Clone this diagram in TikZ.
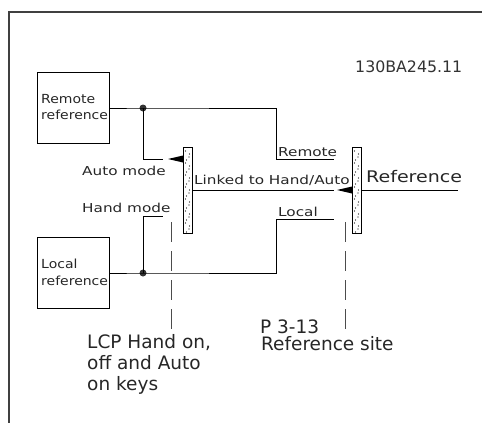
\documentclass[tikz,border=0pt]{standalone}
\usepackage{fontspec}
\setmainfont{DejaVu Sans}
\newfontfamily\cadfont[FakeStretch=1.24]{DejaVu Sans}
\newfontfamily\cadbox[FakeStretch=1.12]{DejaVu Sans}
\newfontfamily\cadbig[FakeStretch=1.19]{DejaVu Sans}
\begin{document}
\begin{tikzpicture}[x=1pt,y=-1pt,
  wire/.style={line width=1pt,black},
  frameline/.style={line width=1.2pt,black!75},
  box/.style={draw,line width=1pt,minimum width=72pt,minimum height=71pt,inner sep=0pt},
  lbl/.style={font=\cadfont\fontsize{12.3}{15}\selectfont,inner sep=0pt,anchor=base west,text=black!85},
  boxlbl/.style={font=\cadbox\fontsize{12.5}{15}\selectfont,inner sep=0pt,anchor=base west,text=black!85},
  bigl/.style={font=\cadbig\fontsize{16}{18}\selectfont,inner sep=0pt,anchor=base west,text=black!85},
  codel/.style={font=\fontsize{15.8}{18}\selectfont,inner sep=0pt,anchor=base west,text=black!80},
  note/.style={font=\fontsize{18.5}{21}\selectfont,inner sep=0pt,anchor=base west,align=left,text=black!85},
  bar/.style={draw,line width=1pt,fill=white},
  dashln/.style={line width=1pt,black!70,dash pattern=on 20pt off 9pt},
  jdot/.style={circle,fill=black!80,minimum size=7pt,inner sep=0pt},
  tip/.style={fill=black}]
\useasboundingbox (0,0) rectangle (482,423);
% frame
\draw[frameline] (9,423) -- (9,12) -- (482,12);
% code
\node[codel] (code) at (355,72) {130BA245.11};
% boxes
\node[box,anchor=north west] (rem) at (37,72) {};
\node[box,anchor=north west] (loc) at (37,237) {};
\node[boxlbl] (remt1) at (41,103) {Remote};
\node[boxlbl] (remt2) at (41,119) {reference};
\node[boxlbl] (loct1) at (41,268) {Local};
\node[boxlbl] (loct2) at (41,285) {reference};
% bars
\draw[bar] (183,147) rectangle (192,233);
\draw[bar] (352,147) rectangle (361,233);
\coordinate (b1l) at (183,159);
\coordinate (b1r) at (192,190);
\coordinate (b2l) at (352,190);
\coordinate (b2r) at (361,190);
\foreach \bx in {183,352}{
  \foreach \k in {0,...,13}{
    \fill ({\bx+2.5+mod(\k,2)*3.5},{151+\k*6}) circle (0.6pt);
    \fill ({\bx+6.5-mod(\k,2)*3},{154+\k*6}) circle (0.6pt);
  }
}
% junction dots
\node[jdot] (j1) at (143,108) {};
\node[jdot] (j2) at (143,273) {};
% remote wire
\coordinate (r1) at (276,108);
\coordinate (r2) at (276,159);
\coordinate (r3) at (334,159);
\draw[wire] (rem.east |- j1) -- (j1.center) -- (r1) -- (r2) -- (r3);
% auto mode wire
\coordinate (a1) at (143,159);
\coordinate (a2) at (163,159);
\draw[wire] (j1.center) -- (a1) -- (a2);
\fill[tip] (168,159) -- (183,155.5) -- (183,162.5) -- cycle;
% hand mode wire
\coordinate (h1) at (143,216);
\coordinate (h2) at (163,216);
\draw[wire] (j2.center) -- (h1) -- (h2);
% local wire
\coordinate (l1) at (276,273);
\coordinate (l2) at (276,219);
\coordinate (l3) at (334,219);
\draw[wire] (loc.east |- j2) -- (j2.center) -- (l1) -- (l2) -- (l3);
% linked wire
\coordinate (k1) at (334,190);
\draw[wire] (b1r) -- (k1);
\fill[tip] (337,190) -- (352,186.5) -- (352,193.5) -- cycle;
% reference out
\coordinate (refend) at (458,190);
\draw[wire] (b2r) -- (refend);
% dashed lines
\coordinate (d1a) at (171,222);
\coordinate (d1b) at (171,330);
\coordinate (d2a) at (345,222);
\coordinate (d2b) at (345,330);
\draw[dashln] (d1a) -- (d1b);
\draw[dashln] (d2a) -- (d2b);
% labels
\node[lbl] (tremote) at (278,156) {Remote};
\node[lbl] (tlocal) at (278,216) {Local};
\node[lbl] (tauto) at (82,175) {Auto mode};
\node[lbl] (thand) at (82,212) {Hand mode};
\node[lbl] (tlinked) at (194,184) {Linked to Hand/Auto};
\node[bigl] (tref) at (366,182) {Reference};
% bottom notes
\node[note,anchor=north west] (lcp) at (87,334) {LCP Hand on,\\off and Auto\\on keys};
\node[note] (p313) at (260,333) {P 3-13};
\node[note] (rsite) at (261,350) {Reference site};
\end{tikzpicture}
\end{document}
